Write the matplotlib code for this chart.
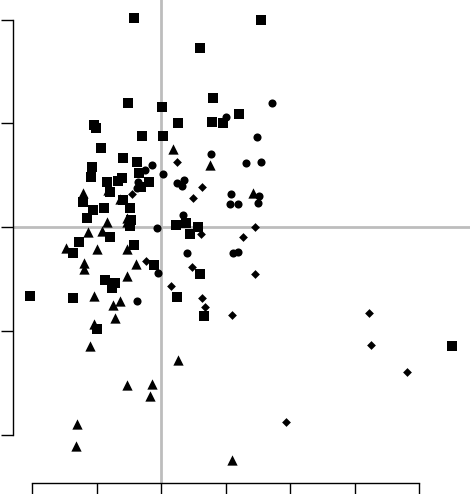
import matplotlib
matplotlib.use("Agg")
import matplotlib.pyplot as plt

# Puntos (coordenadas de datos)
cuad_x = [-0.42, 1.55, 0.60, -0.51, 0.02, 0.81, 1.21, 0.26, 0.79, 0.96, -1.04, -1.01,
          -0.29, 0.03, -0.93, -0.59, -0.37, -1.07, -1.09, -0.34, -0.60, -0.84, -0.67,
          -0.19, -0.31, -0.79, -0.59, -1.21, -1.05, -0.88, -0.48, -1.15, -0.47, -0.48,
          0.23, 0.39, 0.57, 0.45, -0.79, -1.27, -1.36, -0.42, -0.11, 0.60, -0.87, -0.71,
          -0.76, -2.03, -1.36, 0.25, 0.67, -0.99, 4.51]
cuad_y = [2.01, 2.00, 1.73, 1.20, 1.16, 1.24, 1.09, 1.00, 1.01, 1.00, 0.98, 0.95,
          0.88, 0.88, 0.76, 0.67, 0.63, 0.58, 0.48, 0.52, 0.47, 0.43, 0.44,
          0.43, 0.39, 0.34, 0.26, 0.24, 0.16, 0.18, 0.18, 0.09, 0.07, 0.01,
          0.02, 0.04, 0.00, -0.07, -0.10, -0.14, -0.25, -0.17, -0.37, -0.45, -0.51, -0.54,
          -0.59, -0.66, -0.68, -0.67, -0.86, -0.98, -1.15]

circ_x = [1.72, 1.01, 1.49, 0.78, 1.32, 1.55, -0.14, -0.25, 0.03, -0.36, -0.37, 0.25,
          0.36, 0.33, 1.09, 1.07, 1.19, 1.52, 1.50, 0.34, -0.06, 0.40, 1.12, 1.19,
          -0.05, -0.37]
circ_y = [1.20, 1.06, 0.87, 0.70, 0.62, 0.63, 0.60, 0.55, 0.51, 0.43, 0.38, 0.42,
          0.45, 0.40, 0.32, 0.22, 0.22, 0.30, 0.23, 0.12, -0.01, -0.25, -0.25, -0.24,
          -0.44, -0.71]

tri_x = [0.19, 0.76, 1.43, -1.21, -0.82, -0.64, -0.84, -0.53, -0.53, -1.13, -0.91,
         -1.47, -0.99, -0.53, -1.19, -1.19, -0.39, -0.53, -1.04, -0.64, -0.74, -0.71,
         -1.04, -1.10, 0.26, -0.53, -0.14, -0.17, -1.30, -1.32, 1.10]
tri_y = [0.75, 0.60, 0.33, 0.33, 0.36, 0.27, 0.05, 0.09, 0.05, -0.05, -0.04,
         -0.20, -0.21, -0.21, -0.35, -0.40, -0.36, -0.47, -0.66, -0.71, -0.75, -0.88,
         -0.93, -1.15, -1.28, -1.52, -1.51, -1.63, -1.90, -2.11, -2.25]

diam_x = [0.25, 0.64, 0.50, -0.45, 1.46, 0.62, 1.27, -0.23, 0.48, 1.46, 0.16, 0.64,
          0.68, 1.10, 3.22, 3.26, 3.81, 1.94]
diam_y = [0.63, 0.39, 0.28, 0.32, 0.00, -0.07, -0.10, -0.33, -0.39, -0.45, -0.57, -0.68,
          -0.77, -0.85, -0.83, -1.14, -1.40, -1.88]

xticks = [-2, -1, 0, 1, 2, 3, 4]
yticks = [-2, -1, 0, 1, 2]

fig = plt.figure(figsize=(4.70, 4.94), dpi=100)
ax = fig.add_axes([13 / 470, 11 / 494, 457 / 470, 483 / 494])
ax.set_xlim(-2.295, 4.79)
ax.set_ylim(-2.467, 2.188)

# líneas de referencia en cero
ax.axhline(0, color="#bdbdbd", lw=2, zorder=1)
ax.axvline(0, color="#bdbdbd", lw=2, zorder=1)

ax.scatter(cuad_x, cuad_y, marker="s", s=42, c="black", linewidths=0, zorder=3)
ax.scatter(circ_x, circ_y, marker="o", s=34, c="black", linewidths=0, zorder=3)
ax.scatter(tri_x, tri_y, marker="^", s=55, c="black", linewidths=0, zorder=3)
ax.scatter(diam_x, diam_y, marker="D", s=20, c="black", linewidths=0, zorder=3)

for lado in ["top", "right"]:
    ax.spines[lado].set_visible(False)
ax.spines["left"].set_bounds(-2, 2)
ax.spines["bottom"].set_bounds(-2, 4)
ax.spines["left"].set_linewidth(1)
ax.spines["bottom"].set_linewidth(1)

ax.set_xticks(xticks)
ax.set_yticks(yticks)
ax.set_xticklabels([])
ax.set_yticklabels([])
ax.tick_params(direction="out", length=8.6, width=1, color="black")

fig.savefig("out.png", dpi=100)
